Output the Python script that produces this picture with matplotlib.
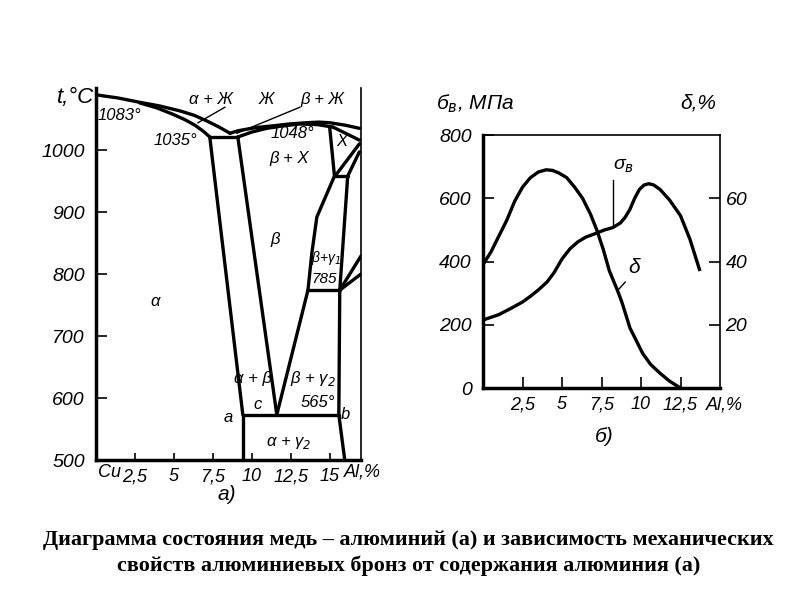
import matplotlib.pyplot as plt

# --- phase diagram Cu-Al (a) ---
liq_a_x = [0, 1.4, 2.8, 4.1, 5.4, 6.3, 7.1, 7.9, 8.6]
liq_a_t = [1089, 1084, 1077, 1071, 1063, 1056, 1047, 1037, 1027]
sol_a_x = [2.8, 3.9, 4.9, 5.7, 6.35, 6.9, 7.3]
sol_a_t = [1076, 1068, 1058, 1049, 1040, 1030, 1021]
liq_b_x = [8.6, 9.1, 10.2, 11.35, 12.4, 13.5, 14.3, 15.0, 16.0, 16.9]
liq_b_t = [1027, 1031, 1036, 1039, 1042, 1044, 1045, 1044, 1040, 1035]
sol_b_x = [9.1, 10.0, 10.96, 12.0, 13.1, 14.2, 15.2]
sol_b_t = [1021, 1029, 1035, 1039, 1042, 1041, 1037]
iso1035_x = [7.3, 9.1]
iso1035_t = [1021, 1021]
a_ab_x = [7.3, 9.42]
a_ab_t = [1021, 573]
b_ab_x = [9.1, 11.6]
b_ab_t = [1021, 573]
b_bg2_x = [13.6, 11.6]
b_bg2_t = [774, 573]
g2_x = [15.64, 15.58, 15.96]
g2_t = [774, 573, 500]
eut_x = [9.42, 15.58]
eut_t = [573, 573]
a_vert_x = [9.42, 9.42]
a_vert_t = [573, 500]
b_bg1_x = [15.3, 14.17, 13.85, 13.6]
b_bg1_t = [958, 892, 834, 774]
bg1_r_x = [16.15, 15.64]
bg1_r_t = [958, 774]
iso785_x = [13.6, 15.64]
iso785_t = [774, 774]
x_top_x = [15.2, 16.9]
x_top_t = [1037, 1016]
x_left_x = [15.0, 15.3]
x_left_t = [1035, 958]
x_bot_x = [15.3, 16.15]
x_bot_t = [958, 958]
x_d1_x = [15.4, 16.9]
x_d1_t = [960, 1010]
x_d2_x = [16.15, 16.9]
x_d2_t = [958, 997]
r1_x = [15.64, 17.0]
r1_t = [774, 829]
r2_x = [15.64, 17.0]
r2_t = [774, 800]

# --- mechanical properties (б) ---
sig_x = [0, 1.0, 1.7, 2.5, 3.0, 3.5, 4.05, 4.5, 5.0, 5.5, 6.0, 6.5, 7.2, 7.7, 8.2,
         8.7, 9.0, 9.3, 9.6, 9.9, 10.2, 10.5, 10.8, 11.2, 11.8, 12.5, 13.1, 13.7]
sig_v = [215, 232, 250, 272, 290, 310, 335, 365, 408, 440, 462, 477, 490, 500, 507,
         522, 540, 565, 600, 628, 642, 646, 642, 628, 595, 545, 470, 375]
del_x = [0, 0.5, 1.0, 1.5, 2.0, 2.5, 3.0, 3.5, 4.0, 4.4, 4.8, 5.3, 5.8, 6.3, 6.8,
         7.2, 7.6, 8.0, 8.5, 8.8, 9.3, 9.7, 10.1, 10.6, 11.2, 11.8, 12.4]
del_v = [39, 43, 48, 53, 59, 63.5, 66.5, 68.3, 69, 68.8, 68, 66.5, 63.5, 60, 55,
         50, 44, 37, 31, 27, 19, 15, 11, 7.5, 4.7, 2.2, 0.3]

left_yticks = [500, 600, 700, 800, 900, 1000]
left_xticks = [2.5, 5, 7.5, 10, 12.5, 15]
left_xlabels = ["2,5", "5", "7,5", "10", "12,5", "15"]
right_xticks = [2.5, 5, 7.5, 10, 12.5]
right_xlabels = ["2,5", "5", "7,5", "10", "12,5"]
right_yticks = [0, 200, 400, 600, 800]
delta_ticks = [20, 40, 60]

FONT = ["Liberation Sans", "DejaVu Sans"]
plt.rcParams["font.family"] = FONT
plt.rcParams["font.style"] = "italic"

fig = plt.figure(figsize=(8, 6), dpi=100)

ax = fig.add_axes([0.12, 0.2333, 0.3312, 0.62])
ax.set_xlim(0, 17)
ax.set_ylim(500, 1100)
thick = dict(color="black", lw=2.4, solid_capstyle="round")
for xs, ts in [(liq_a_x, liq_a_t), (sol_a_x, sol_a_t), (liq_b_x, liq_b_t),
               (sol_b_x, sol_b_t), (iso1035_x, iso1035_t), (a_ab_x, a_ab_t),
               (b_ab_x, b_ab_t), (b_bg2_x, b_bg2_t), (g2_x, g2_t), (eut_x, eut_t),
               (a_vert_x, a_vert_t), (b_bg1_x, b_bg1_t), (bg1_r_x, bg1_r_t),
               (iso785_x, iso785_t), (x_top_x, x_top_t), (x_left_x, x_left_t),
               (x_bot_x, x_bot_t), (x_d1_x, x_d1_t), (x_d2_x, x_d2_t),
               (r1_x, r1_t), (r2_x, r2_t)]:
    ax.plot(xs, ts, **thick)
ax.plot([8.27, 6.54], [1069, 1044], color="black", lw=1)
ax.plot([13.08, 9.04], [1069, 1027], color="black", lw=1)

ax.spines["top"].set_visible(False)
ax.spines["left"].set_linewidth(2.5)
ax.spines["bottom"].set_linewidth(2.5)
ax.spines["right"].set_linewidth(1.2)
ax.set_yticks(left_yticks)
ax.set_yticklabels([str(v) for v in left_yticks], fontsize=14)
ax.set_xticks(left_xticks)
ax.set_xticklabels(left_xlabels, fontsize=13)
ax.tick_params(axis="y", direction="in", length=8, width=1.2, pad=8)
ax.tick_params(axis="x", direction="in", length=5, width=1.2, pad=6)

lab = dict(fontsize=12, ha="center", va="center")
ax.text(1.5, 1056, "1083°", **lab)
ax.text(7.4, 1081, "α + Ж", **lab)
ax.text(10.9, 1081, "Ж", **lab)
ax.text(14.5, 1081, "β + Ж", **lab)
ax.text(5.1, 1016, "1035°", **lab)
ax.text(12.6, 1026, "1048°", **lab)
ax.text(12.4, 987, "β + X", **lab)
ax.text(15.8, 1013, "X", **lab)
ax.text(11.5, 855, "β", **lab)
ax.text(14.75, 826, "β+γ$_1$", fontsize=10, ha="center", va="center")
ax.text(14.65, 792, "785", fontsize=11, ha="center", va="center")
ax.text(3.8, 755, "α", **lab)
ax.text(10.1, 632, "α + β", **lab)
ax.text(13.9, 632, "β + γ$_2$", **lab)
ax.text(10.4, 589, "c", **lab)
ax.text(14.2, 592, "565°", **lab)
ax.text(8.5, 568, "a", **lab)
ax.text(16.0, 573, "b", **lab)
ax.text(12.4, 527, "α + γ$_2$", **lab)

fig.text(0.071, 0.838, "t,°C", fontsize=16, ha="left", va="center")
fig.text(0.123, 0.213, "Cu", fontsize=13, ha="left", va="center")
fig.text(0.43, 0.213, "Al,%", fontsize=13, ha="left", va="center")
fig.text(0.283, 0.175, "а)", fontsize=15, ha="center", va="center")

# right chart
bx = fig.add_axes([0.60375, 0.3533, 0.29625, 0.4217])
bx.set_xlim(0, 15)
bx.set_ylim(0, 800)
bx.plot(sig_x, sig_v, color="black", lw=2.4)
bx.plot([8.25, 8.25], [509, 658], color="black", lw=1)
bx.plot([8.55, 9.0], [310, 335], color="black", lw=1)
bx.text(8.9, 700, "σ$_в$", fontsize=14, ha="center", va="center")
bx.text(9.55, 380, "δ", fontsize=15, ha="center", va="center")
bx.set_yticks(right_yticks)
bx.set_yticklabels([str(v) for v in right_yticks], fontsize=14)
bx.set_xticks(right_xticks)
bx.set_xticklabels(right_xlabels, fontsize=13)
bx.tick_params(axis="y", direction="in", length=8, width=1.2, pad=8)
bx.tick_params(axis="x", direction="in", length=8, width=1.2, pad=6)
bx.spines["left"].set_linewidth(2.5)
bx.spines["bottom"].set_linewidth(2.5)
bx.spines["top"].set_linewidth(1.2)
bx.spines["right"].set_linewidth(1.2)

dx = bx.twinx()
dx.set_ylim(0, 80)
dx.plot(del_x, del_v, color="black", lw=2.4)
dx.set_yticks(delta_ticks)
dx.set_yticklabels([str(v) for v in delta_ticks], fontsize=14)
dx.tick_params(axis="y", direction="in", length=8, width=1.2, pad=4)
for s in dx.spines.values():
    s.set_visible(False)

fig.text(0.545, 0.828, "б$_в$, МПа", fontsize=15, ha="left", va="center")
fig.text(0.85, 0.828, "δ,%", fontsize=15, ha="left", va="center")
fig.text(0.882, 0.325, "Al,%", fontsize=13, ha="left", va="center")
fig.text(0.755, 0.272, "б)", fontsize=15, ha="center", va="center")

cap = dict(fontsize=15.9, fontweight="bold", fontstyle="normal",
           family=["Liberation Serif", "DejaVu Serif"], ha="center", va="center")
fig.text(0.511, 0.1, "Диаграмма состояния медь – алюминий (а) и зависимость механических", **cap)
fig.text(0.511, 0.057, "свойств алюминиевых бронз от содержания алюминия (а)", **cap)

fig.savefig("out.png", dpi=100)
